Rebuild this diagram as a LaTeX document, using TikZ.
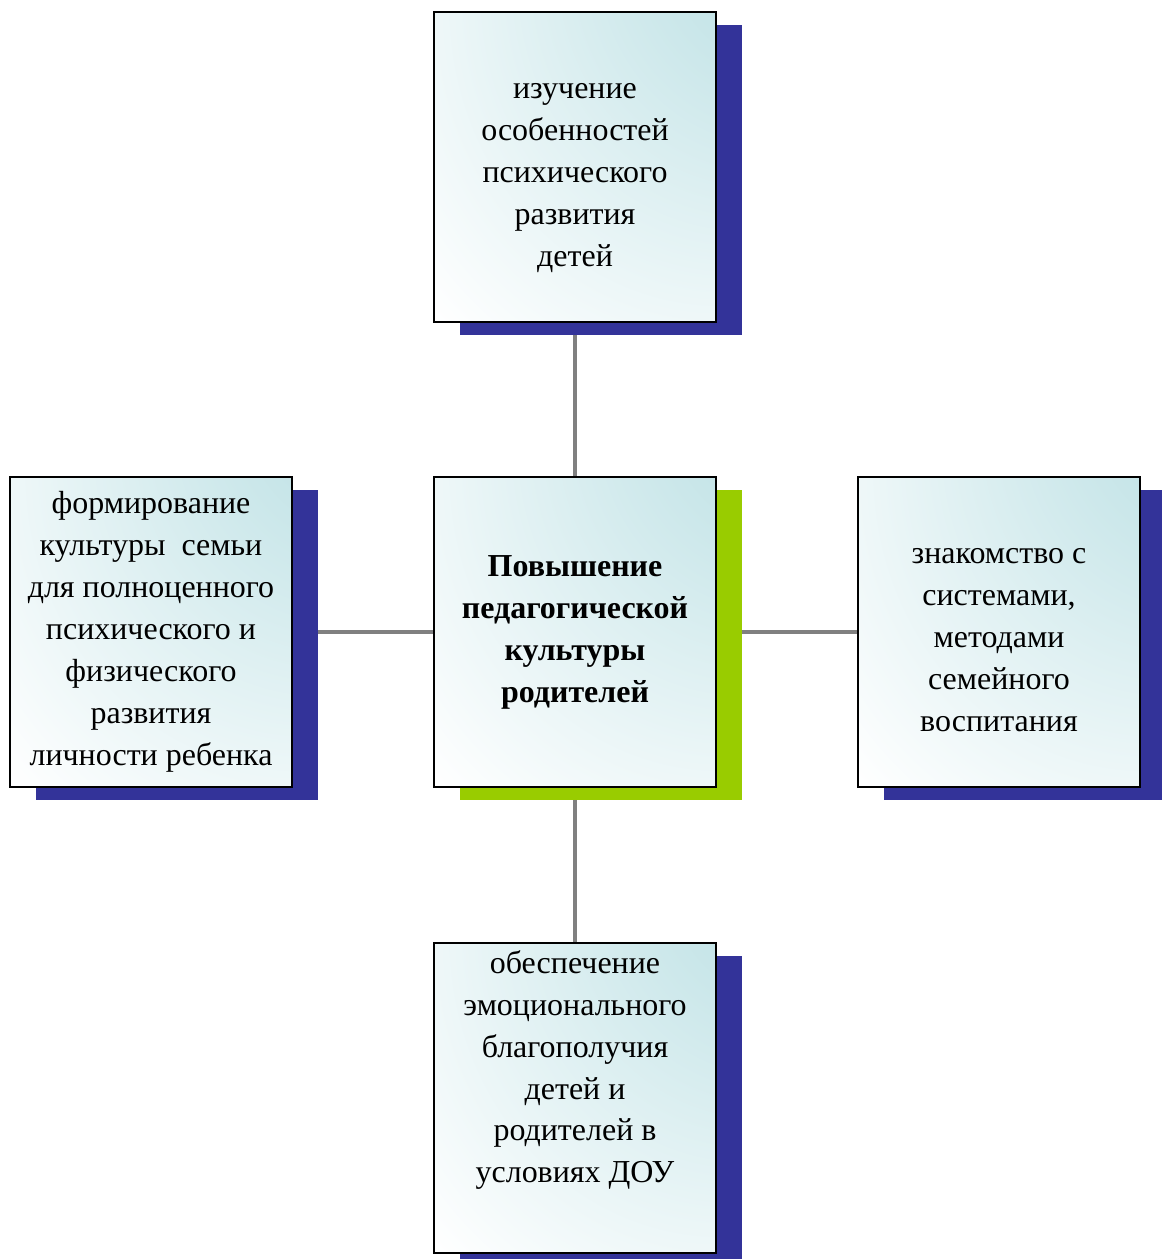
\documentclass[tikz,border=0pt]{standalone}
\usepackage{fontspec}
\setmainfont{Liberation Serif}
\usetikzlibrary{shadows,backgrounds}
\definecolor{shadowblue}{RGB}{51,51,153}
\definecolor{shadowgreen}{RGB}{153,204,0}
\definecolor{boxteal}{RGB}{183,222,226}
\definecolor{linegray}{RGB}{128,128,128}
\pgfdeclareradialshading{tealcorner}{\pgfpoint{50bp}{50bp}}{color(0bp)=(boxteal);
    color(10bp)=(boxteal); color(38bp)=(boxteal!45!white); color(62bp)=(white); color(100bp)=(white)}

\begin{document}
\begin{tikzpicture}[x=0.02cm, y=-0.02cm,
    box/.style={draw, line width=1.1pt, minimum width=5.64cm, minimum height=6.2cm,
        align=center, inner sep=0pt, shade, shading=tealcorner,
        font=\fontsize{18.2}{23.9}\selectfont},
    boxtext/.style={align=center, font=\fontsize{18.2}{23.9}\selectfont},
    blueshadow/.style={general shadow={fill=shadowblue, shadow xshift=0.52cm, shadow yshift=-0.26cm}},
    greenshadow/.style={general shadow={fill=shadowgreen, shadow xshift=0.52cm, shadow yshift=-0.26cm}},
    link/.style={linegray, line width=2.8pt}]
    \useasboundingbox (0,0) rectangle (1161,1259);
    % Boxes
    \node[box, blueshadow] (study) at (575,167) {};
    \node[boxtext] (studytext) at (575,178) {изучение\\особенностей\\психического\\развития\\детей};
    \node[box, greenshadow, font=\fontsize{18.2}{23.9}\selectfont\bfseries] (culture) at (575,632) {Повышение\\педагогической\\культуры\\родителей};
    \node[box, blueshadow] (family) at (151,632) {формирование\\культуры\ \ семьи\\для полноценного\\психического и\\физического\\развития\\личности ребенка};
    \node[box, blueshadow] (methods) at (999,632) {};
    \node[boxtext] (methodstext) at (999,640) {знакомство с\\системами,\\методами\\семейного\\воспитания};
    \node[box, blueshadow] (comfort) at (575,1098) {};
    \node[boxtext] (comforttext) at (575,1070) {обеспечение\\эмоционального\\благополучия\\детей и\\родителей в\\условиях ДОУ};

    % Links
    \begin{pgfonlayer}{background}
        \draw[link] (study) -- (culture);
        \draw[link] (family) -- (culture);
        \draw[link] (culture) -- (methods);
        \draw[link] (culture) -- (comfort);
    \end{pgfonlayer}
\end{tikzpicture}
\end{document}
